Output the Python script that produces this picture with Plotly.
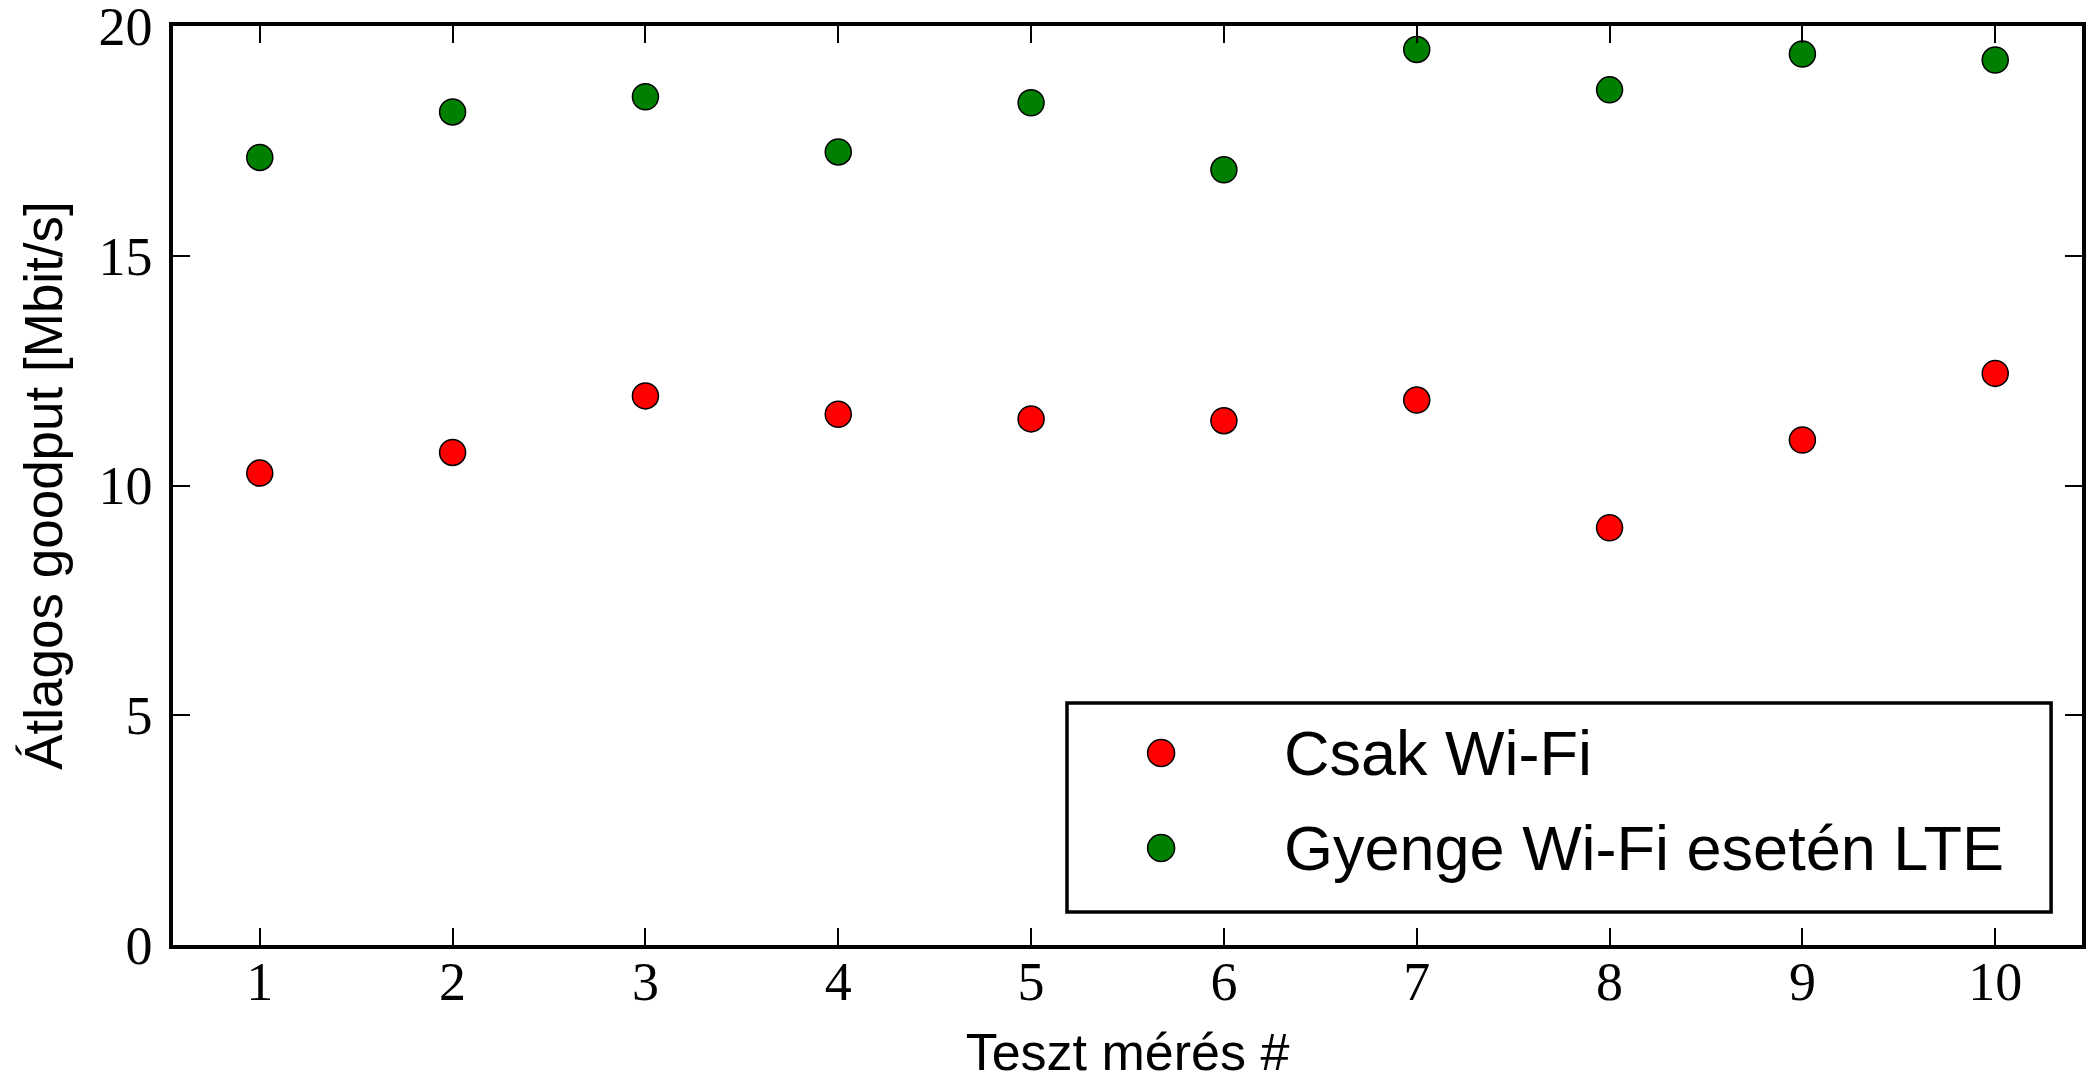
import plotly.graph_objects as go

# Data
tests = [1, 2, 3, 4, 5, 6, 7, 8, 9, 10]
wifi_only = [10.27, 10.72, 11.95, 11.55, 11.45, 11.41, 11.86, 9.08, 10.99, 12.44]
weak_wifi_lte = [17.14, 18.13, 18.46, 17.26, 18.33, 16.87, 19.49, 18.61, 19.39, 19.26]
series_names = ["Csak Wi-Fi", "Gyenge Wi-Fi esetén LTE"]
series_colors = ["#ff0000", "#008000"]
x_ticks = [1, 2, 3, 4, 5, 6, 7, 8, 9, 10]
y_ticks = [0, 5, 10, 15, 20]

SANS = "Liberation Sans, Arial, sans-serif"
SERIF = "Liberation Serif, Times New Roman, serif"

fig = go.Figure()
for name, vals, col in zip(series_names, [wifi_only, weak_wifi_lte], series_colors):
    fig.add_trace(go.Scatter(
        x=tests, y=vals, mode="markers", name=name, showlegend=False,
        marker=dict(size=26, color=col, line=dict(color="black", width=1.5)),
    ))

# Manual legend (to allow large legend markers)
fig.add_shape(type="rect", xref="paper", yref="paper",
              x0=0.4683, x1=0.9838, y0=0.0359, y1=0.2633,
              line=dict(color="black", width=3.5), fillcolor="white", layer="above")
leg_y = [0.2089, 0.1055]
for name, col, yy in zip(series_names, series_colors, leg_y):
    fig.add_shape(type="circle", xref="paper", yref="paper",
                  xsizemode="pixel", ysizemode="pixel",
                  xanchor=0.5176, yanchor=yy,
                  x0=-13.5, x1=13.5, y0=-13.5, y1=13.5,
                  fillcolor=col, line=dict(color="black", width=1.5), layer="above")
    fig.add_annotation(x=0.5809, y=yy, xref="paper", yref="paper",
                       text=name, showarrow=False, xanchor="left", yanchor="middle",
                       font=dict(family=SANS, size=63, color="black"))

axis_common = dict(
    showline=True, linecolor="black", linewidth=3.5, mirror="ticks",
    ticks="inside", ticklen=17, tickwidth=1.5, tickcolor="black",
    showgrid=False, zeroline=False, ticklabeloverflow="allow",
    tickfont=dict(family=SERIF, size=54, color="black"),
)

fig.update_xaxes(range=[0.55, 10.45], tickvals=x_ticks, ticklabelstandoff=-14,
                 title=dict(text="Teszt mérés #", font=dict(family=SANS, size=52, color="black"), standoff=34),
                 **axis_common)
fig.update_yaxes(range=[0, 20.0001], tickvals=y_ticks, ticklabelstandoff=6,
                 title=dict(text="Átlagos goodput [Mbit/s]", font=dict(family=SANS, size=53, color="black"), standoff=20),
                 **axis_common)

fig.update_layout(
    width=2089, height=1081,
    margin=dict(l=173, r=7, t=26, b=136, autoexpand=False),
    paper_bgcolor="white", plot_bgcolor="white",
)

fig.write_html("out.html")
